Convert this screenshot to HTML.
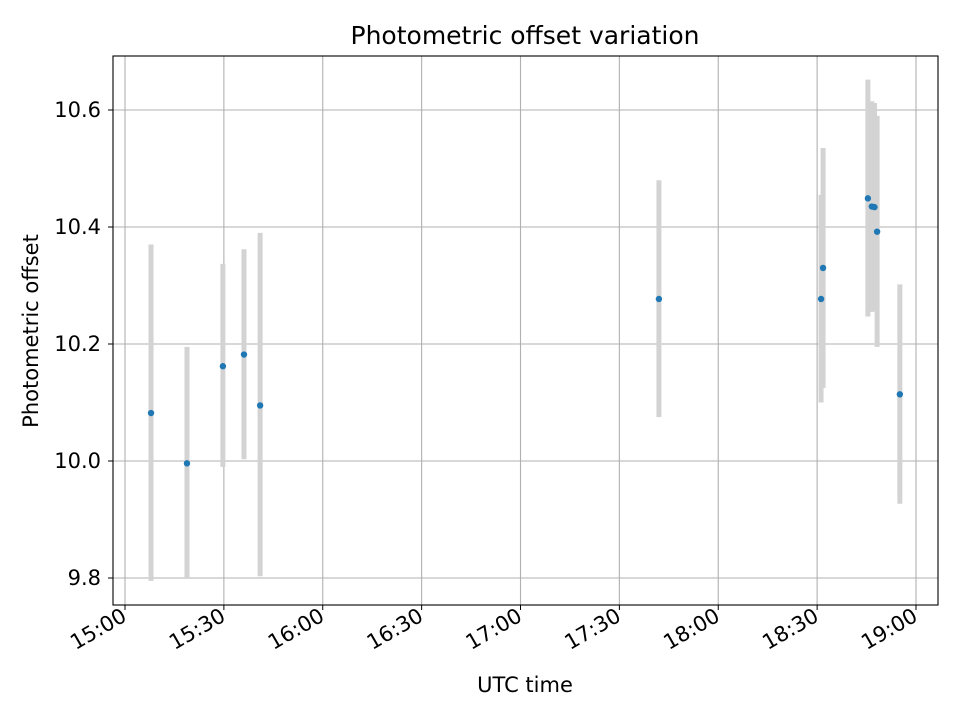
<!DOCTYPE html>
<html><head><meta charset="utf-8"><style>body{margin:0;background:#fff}svg text{font-family:"DejaVu Sans","Liberation Sans",sans-serif}</style></head>
<body>
<svg id="c" width="960" height="720" xmlns="http://www.w3.org/2000/svg">
<rect width="960" height="720" fill="#fff"/>
<g id="grid"></g><g id="bars"></g><g id="pts"></g><g id="ax"></g>
<rect x="113" y="56" width="825" height="549" fill="none" stroke="#000" stroke-width="1.1"/>
<text x="525" y="44" font-size="25px" text-anchor="middle">Photometric offset variation</text>
<text x="525" y="692" font-size="21px" text-anchor="middle">UTC time</text>
<text transform="translate(38,331) rotate(-90)" font-size="21px" text-anchor="middle">Photometric offset</text>
</svg>
<script>
const minutes=[7.9,18.8,29.7,36.1,41,162,211.2,211.8,225.4,226.6,227.4,228.2,235.1];
const values=[10.082,9.996,10.162,10.182,10.095,10.277,10.277,10.33,10.449,10.435,10.434,10.392,10.114];
const lows=[9.795,9.80,9.99,10.003,9.803,10.075,10.10,10.125,10.247,10.255,10.257,10.195,9.927];
const highs=[10.37,10.195,10.337,10.362,10.39,10.48,10.455,10.535,10.652,10.615,10.612,10.59,10.302];
const xTicks=[0,30,60,90,120,150,180,210,240];
const xLabels=["15:00","15:30","16:00","16:30","17:00","17:30","18:00","18:30","19:00"];
const yTicks=[9.8,10.0,10.2,10.4,10.6];
const yLabels=["9.8","10.0","10.2","10.4","10.6"];
const X=m=>125+m*(916-125)/240;
const Y=v=>461-(v-10)*(461-344)/0.2;
const NS="http://www.w3.org/2000/svg";
function mk(p,t,a){const e=document.createElementNS(NS,t);for(const k in a)e.setAttribute(k,a[k]);document.getElementById(p).appendChild(e);return e;}
xTicks.forEach((m,i)=>{
 const g=mk('grid','line',{x1:X(m),x2:X(m),y1:56,y2:605,stroke:'#b0b0b0','stroke-width':1.1});
 
 
 const t=mk('ax','line',{x1:X(m),x2:X(m),y1:605,y2:610,stroke:'#000'});
 
 
 const l=mk('ax','text',{x:X(m)+3,y:620,'font-size':'21px','text-anchor':'end',transform:`rotate(-30 ${X(m)+3} 620)`});
 l.textContent=xLabels[i];
 
 
});
yTicks.forEach((v,i)=>{
 const g=mk('grid','line',{x1:113,x2:938,y1:Y(v),y2:Y(v),stroke:'#b0b0b0','stroke-width':1.1});
 
 
 const t=mk('ax','line',{x1:108,x2:113,y1:Y(v),y2:Y(v),stroke:'#000'});
 
 
 const l=mk('ax','text',{x:101,y:Y(v)+7,'font-size':'21px','text-anchor':'end'});
 l.textContent=yLabels[i];
 
 
});
minutes.forEach((m,i)=>{
 const b=mk('bars','line',{x1:X(m),x2:X(m),y1:Y(lows[i]),y2:Y(highs[i]),stroke:'#d3d3d3','stroke-width':5});
 
 
 const p=mk('pts','circle',{cx:X(m),cy:Y(values[i]),r:3.2,fill:'#1f77b4'});
 
 
});
</script>
</body></html>
